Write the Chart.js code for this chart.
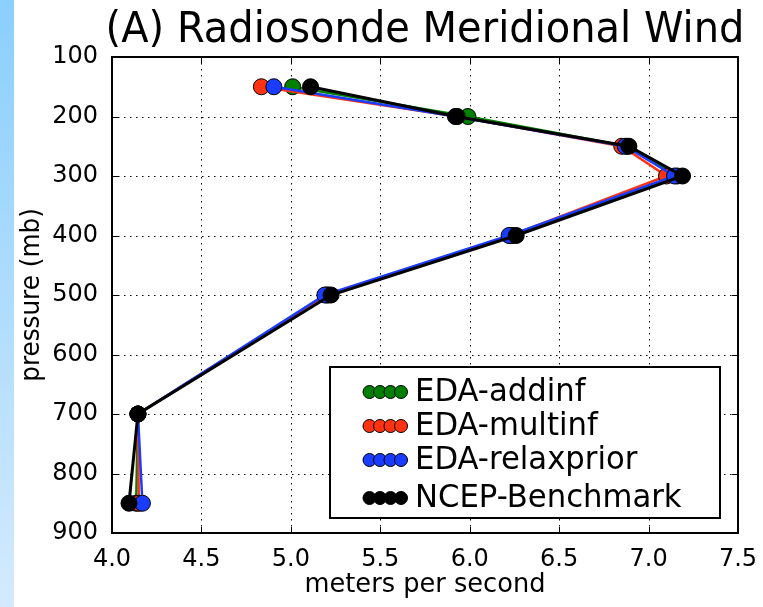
<!DOCTYPE html>
<html>
<head>
<meta charset="utf-8">
<script src="https://cdn.jsdelivr.net/npm/chart.js@4.4.1/dist/chart.umd.min.js"></script>
<style>
  html, body { margin: 0; padding: 0; background: #fff; }
  canvas { display: block; }
</style>
</head>
<body>
<canvas id="c" width="763" height="607"></canvas>
<script>
// Pressure levels (mb) and meridional wind RMS (m/s) per experiment
const pressureLevels = [150, 200, 250, 300, 400, 500, 700, 850];
const addinf     = [5.01, 5.99, 6.88, 7.16, 6.24, 5.21, 4.145, 4.135];
const multinf    = [4.835, 5.93, 6.85, 7.10, 6.23, 5.20, 4.145, 4.15];
const relaxprior = [4.905, 5.92, 6.87, 7.145, 6.22, 5.19, 4.145, 4.17];
const benchmark  = [5.11, 5.925, 6.89, 7.19, 6.26, 5.225, 4.145, 4.095];
const seriesNames = ['EDA-addinf', 'EDA-multinf', 'EDA-relaxprior', 'NCEP-Benchmark'];
const seriesColors = ['#008000', '#ff3311', '#1a3cff', '#000000'];
const xTicks = [4.0, 4.5, 5.0, 5.5, 6.0, 6.5, 7.0, 7.5];
const yTicks = [100, 200, 300, 400, 500, 600, 700, 800, 900];

const FONT = '"DejaVu Sans", "Liberation Sans", sans-serif';
Chart.defaults.color = '#000';
Chart.defaults.font.family = FONT;

const toPoints = vals => vals.map((v, i) => ({ x: v, y: pressureLevels[i] }));
const allSeries = [addinf, multinf, relaxprior, benchmark];

const datasets = allSeries.map((vals, i) => ({
  label: seriesNames[i],
  data: toPoints(vals),
  showLine: true,
  borderColor: seriesColors[i],
  backgroundColor: seriesColors[i],
  borderWidth: i === 3 ? 3 : 2.5,
  pointRadius: 8,
  pointHoverRadius: 8,
  pointBorderColor: '#000',
  pointBorderWidth: 1,
  pointBackgroundColor: seriesColors[i],
  order: 4 - i
}));

// text with a slightly condensed horizontal scale
function condensedText(ctx, text, x, y, size, sx, rotate) {
  ctx.save();
  ctx.translate(x, y);
  if (rotate) ctx.rotate(rotate);
  ctx.scale(sx, 1);
  ctx.font = size + 'px ' + FONT;
  ctx.fillText(text, 0, 0);
  ctx.restore();
}

// Background strip, dotted grid, frame with inward ticks, titles and legend
const decorations = {
  id: 'decorations',
  beforeDraw(chart) {
    const ctx = chart.ctx;
    ctx.save();
    ctx.fillStyle = '#fff';
    ctx.fillRect(0, 0, chart.width, chart.height);
    const g = ctx.createLinearGradient(0, 0, 0, chart.height);
    g.addColorStop(0, '#8bcffd');
    g.addColorStop(1, '#d3eafd');
    ctx.fillStyle = g;
    ctx.fillRect(0, 0, 14, chart.height);
    ctx.restore();
  },
  beforeDatasetsDraw(chart) {
    const { ctx, chartArea: a, scales } = chart;
    ctx.save();
    ctx.strokeStyle = '#000';
    ctx.lineWidth = 1;
    ctx.setLineDash([1.5, 4.5]);
    xTicks.forEach(v => {
      const px = Math.round(scales.x.getPixelForValue(v)) + 0.5;
      ctx.beginPath(); ctx.moveTo(px, a.top); ctx.lineTo(px, a.bottom); ctx.stroke();
    });
    yTicks.forEach(v => {
      const py = Math.round(scales.y.getPixelForValue(v)) + 0.5;
      ctx.beginPath(); ctx.moveTo(a.left, py); ctx.lineTo(a.right, py); ctx.stroke();
    });
    ctx.restore();
  },
  afterDraw(chart) {
    const { ctx, chartArea: a, scales } = chart;
    ctx.save();
    // frame ticks (inside, all four sides)
    ctx.strokeStyle = '#000';
    ctx.lineWidth = 1;
    const tl = 6;
    xTicks.forEach(v => {
      const px = Math.round(scales.x.getPixelForValue(v)) + 0.5;
      ctx.beginPath(); ctx.moveTo(px, a.bottom); ctx.lineTo(px, a.bottom - tl); ctx.stroke();
      ctx.beginPath(); ctx.moveTo(px, a.top); ctx.lineTo(px, a.top + tl); ctx.stroke();
    });
    yTicks.forEach(v => {
      const py = Math.round(scales.y.getPixelForValue(v)) + 0.5;
      ctx.beginPath(); ctx.moveTo(a.left, py); ctx.lineTo(a.left + tl, py); ctx.stroke();
      ctx.beginPath(); ctx.moveTo(a.right, py); ctx.lineTo(a.right - tl, py); ctx.stroke();
    });
    // frame
    ctx.lineWidth = 2;
    ctx.strokeRect(a.left, a.top, a.right - a.left, a.bottom - a.top);

    // titles
    const cx = (a.left + a.right) / 2;
    ctx.fillStyle = '#000';
    ctx.textAlign = 'center';
    ctx.textBaseline = 'alphabetic';
    condensedText(ctx, '(A) Radiosonde Meridional Wind', cx, 42, 43, 0.93);
    ctx.textBaseline = 'middle';
    condensedText(ctx, 'meters per second', cx, 585, 27, 0.95);
    condensedText(ctx, 'pressure (mb)', 32, (a.top + a.bottom) / 2, 26, 0.95, -Math.PI / 2);

    // legend
    const bx = 330, by = 367, bw = 390, bh = 151;
    ctx.fillStyle = '#fff';
    ctx.fillRect(bx, by, bw, bh);
    ctx.lineWidth = 2;
    ctx.strokeStyle = '#000';
    ctx.strokeRect(bx, by, bw, bh);
    const rows = [392, 426, 460, 498];
    ctx.textAlign = 'left';
    ctx.textBaseline = 'middle';
    seriesNames.forEach((name, i) => {
      const cy = rows[i];
      for (let k = 0; k < 4; k++) {
        ctx.beginPath();
        ctx.arc(369.5 + k * 10.5, cy, 6.5, 0, Math.PI * 2);
        ctx.fillStyle = seriesColors[i];
        ctx.fill();
        ctx.lineWidth = 1;
        ctx.strokeStyle = '#000';
        ctx.stroke();
      }
      ctx.fillStyle = '#000';
      condensedText(ctx, name, 415, cy + 1, 32, 0.96);
    });
    ctx.restore();
  }
};

new Chart(document.getElementById('c'), {
  type: 'scatter',
  data: { datasets },
  options: {
    responsive: false,
    animation: false,
    events: [],
    layout: { padding: { top: 57, right: 25, left: 0, bottom: 0 } },
    plugins: { legend: { display: false }, tooltip: { enabled: false }, title: { display: false } },
    scales: {
      x: {
        type: 'linear',
        min: 4.0, max: 7.5,
        afterBuildTicks: s => { s.ticks = xTicks.map(v => ({ value: v })); },
        afterFit: s => { s.height = 74; },
        grid: { display: false },
        border: { display: false },
        ticks: { padding: 4, font: { size: 24 }, color: '#000', callback: v => Number(v).toFixed(1), maxRotation: 0 }
      },
      y: {
        type: 'linear',
        reverse: true,
        min: 100, max: 900,
        afterBuildTicks: s => { s.ticks = yTicks.map(v => ({ value: v })); },
        afterFit: s => { s.width = 112; },
        grid: { display: false },
        border: { display: false },
        ticks: { padding: 6, font: { size: 24 }, color: '#000', callback: v => String(v) }
      }
    }
  },
  plugins: [decorations]
});
</script>
</body>
</html>
